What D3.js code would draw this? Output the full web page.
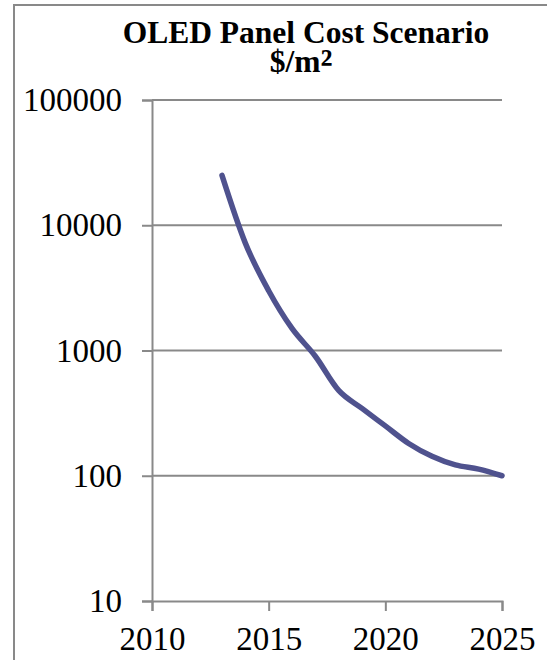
<!DOCTYPE html>
<html>
<head>
<meta charset="utf-8">
<script src="https://cdn.jsdelivr.net/npm/d3@7"></script>
<style>
  html, body { margin: 0; padding: 0; background: #fff; }
  svg { display: block; }
  text { font-family: "Liberation Serif", "Times New Roman", serif; fill: #000; }
</style>
</head>
<body>
<svg id="chart" width="547" height="660"></svg>
<script>
// Data
const years = [2013, 2014, 2015, 2016, 2017, 2018, 2019, 2020, 2021, 2022, 2023, 2024, 2025];
const costs = [25000, 7200, 3000, 1500, 900, 480, 345, 250, 181, 143, 122, 113, 100];
const xTicks = [2010, 2015, 2020, 2025];
const yTicks = [10, 100, 1000, 10000, 100000];
const titleLine1 = "OLED Panel Cost Scenario";
const titleLine2 = "$/m";
const titleSup = "²";

const svg = d3.select("#chart");

// outer chart border (cropped at right and bottom)
svg.append("rect")
  .attr("x", 14).attr("y", 5)
  .attr("width", 700).attr("height", 800)
  .attr("fill", "none")
  .attr("stroke", "#898989")
  .attr("stroke-width", 2);

const plot = { left: 152, right: 502, top: 100, bottom: 601 };

const x = d3.scaleLinear().domain([2010, 2025]).range([plot.left, plot.right]);
const y = d3.scaleLog().domain([10, 100000]).range([plot.bottom, plot.top]);

const gridColor = "#898989";

// horizontal gridlines
svg.append("g")
  .selectAll("line")
  .data(yTicks.filter(d => d !== 10))
  .join("line")
  .attr("x1", plot.left).attr("x2", plot.right)
  .attr("y1", d => y(d)).attr("y2", d => y(d))
  .attr("stroke", gridColor).attr("stroke-width", 2);

// Y axis
const yAxis = d3.axisLeft(y)
  .tickValues(yTicks)
  .tickFormat(d3.format("d"))
  .tickSize(10)
  .tickPadding(20);
const gy = svg.append("g")
  .attr("transform", `translate(${plot.left},0)`)
  .call(yAxis);
gy.select(".domain").attr("stroke", gridColor).attr("stroke-width", 2);
gy.selectAll(".tick line").attr("stroke", gridColor).attr("stroke-width", 2);
gy.selectAll(".tick text")
  .style("font-family", "'Liberation Serif', 'Times New Roman', serif")
  .style("font-size", "33px")
  .attr("fill", "#000");

// X axis
const xAxis = d3.axisBottom(x)
  .tickValues(xTicks)
  .tickFormat(d3.format("d"))
  .tickSize(10)
  .tickPadding(16);
const gx = svg.append("g")
  .attr("transform", `translate(0,${plot.bottom})`)
  .call(xAxis);
gx.select(".domain").attr("stroke", gridColor).attr("stroke-width", 2);
gx.selectAll(".tick line").attr("stroke", gridColor).attr("stroke-width", 2);
gx.selectAll(".tick text")
  .style("font-family", "'Liberation Serif', 'Times New Roman', serif")
  .style("font-size", "33px")
  .attr("fill", "#000");

// Series line
const line = d3.line()
  .x((d, i) => x(years[i]))
  .y(d => y(d))
  .curve(d3.curveCardinal.tension(0));

svg.append("path")
  .datum(costs)
  .attr("d", line)
  .attr("fill", "none")
  .attr("stroke", "#4F528E")
  .attr("stroke-width", 5.5)
  .attr("stroke-linecap", "round")
  .attr("stroke-linejoin", "round");

// Title
svg.append("text")
  .attr("x", 306).attr("y", 43)
  .attr("text-anchor", "middle")
  .style("font-weight", "bold")
  .style("font-size", "31.5px")
  .text(titleLine1);

const t2 = svg.append("text")
  .attr("x", 301).attr("y", 72)
  .attr("text-anchor", "middle")
  .style("font-weight", "bold")
  .style("font-size", "31.5px");
t2.append("tspan").text(titleLine2);
t2.append("tspan").attr("dy", 4).style("font-size", "40px").text(titleSup);
</script>
</body>
</html>
